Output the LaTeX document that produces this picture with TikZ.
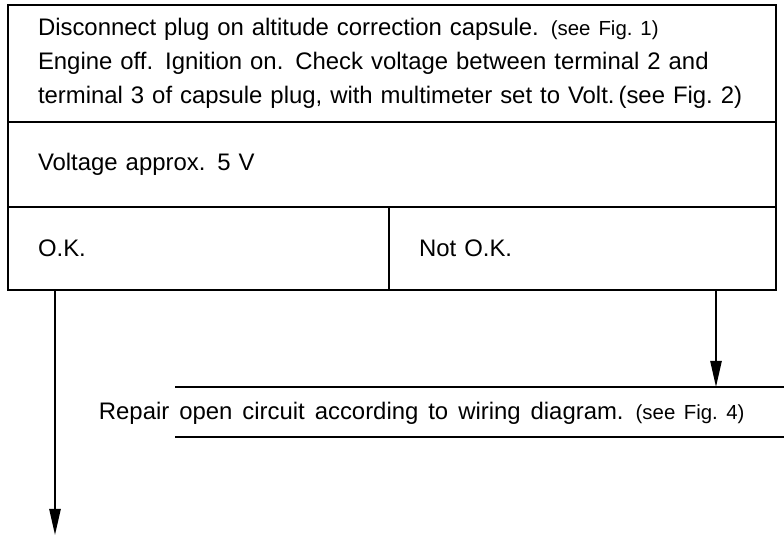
\documentclass[tikz,border=0pt]{standalone}
\usepackage{fontspec}
\setmainfont{Liberation Sans}[WordSpace=1.5]
\usetikzlibrary{arrows.meta,positioning}

\newcommand{\seefig}[1]{{\fontsize{14.5}{22}\selectfont (see Fig.~#1)}}

\begin{document}
\begin{tikzpicture}[x=0.025cm, y=-0.025cm, line width=1.3pt,
    >={Triangle[length=0.65cm, width=0.28cm]},
    stepbox/.style={draw, rectangle, outer sep=0pt, inner xsep=0.75cm, inner ysep=0pt,
        align=left, anchor=north west, font=\fontsize{17}{24}\selectfont}]
    \useasboundingbox (0,0) rectangle (784,540);
    % test box
    \node[stepbox, text width=17.7cm, minimum height=2.925cm] (check) at (8,5)
        {Disconnect plug on altitude correction capsule.\enspace\seefig{1}\\
         Engine off. Ignition on. Check voltage between terminal 2 and\\
         terminal 3 of capsule plug, with multimeter set to Volt.\,(see Fig.~2)};
    % result
    \node[stepbox, text width=17.7cm, minimum height=2.125cm] (volt) at (check.south west)
        {Voltage approx. 5 V};
    \node[stepbox, text width=8.025cm, minimum height=2.075cm] (ok) at (volt.south west)
        {O.K.};
    \node[stepbox, text width=8.175cm, minimum height=2.075cm] (notok) at (ok.north east)
        {Not O.K.};
    % repair
    \node[anchor=west, inner sep=0pt, font=\fontsize{17}{24}\selectfont] (repair) at (98,413)
        {Repair open circuit according to wiring diagram.\enspace\seefig{4}};
    \draw (175,387) -- (784,387);
    \draw (175,437) -- (784,437);
    % arrows
    \coordinate (fault) at (716,387);
    \coordinate (next) at (55,535);
    \draw[->] (notok.south -| fault) -- (fault);
    \draw[->] (ok.south -| next) -- (next);
\end{tikzpicture}
\end{document}
